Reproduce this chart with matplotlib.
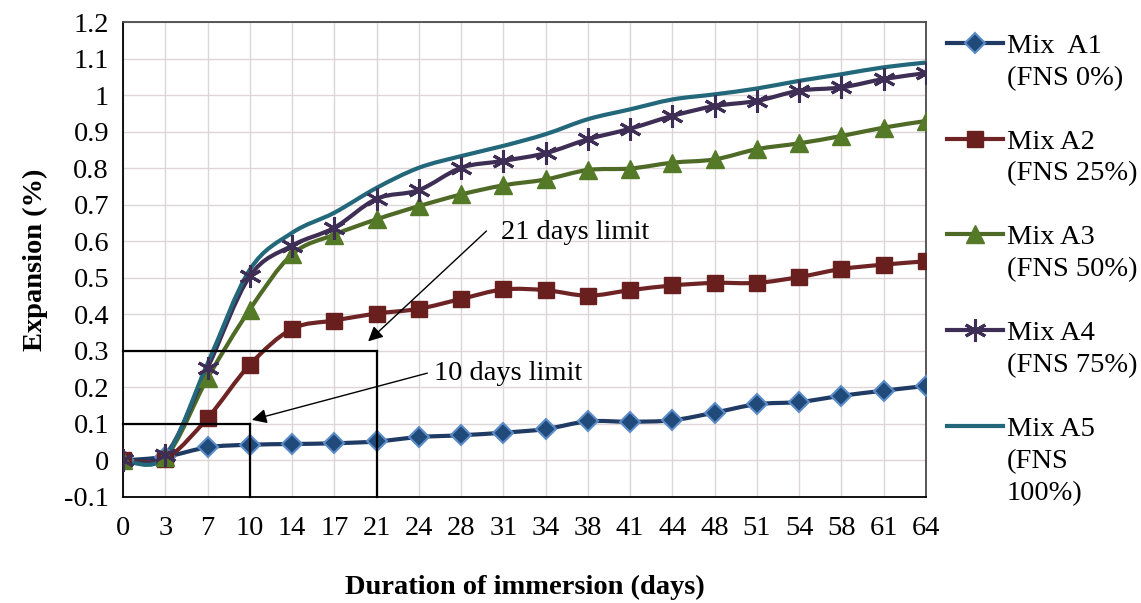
import numpy as np
import matplotlib
matplotlib.use('Agg')
import matplotlib.pyplot as plt
from matplotlib.path import Path
from matplotlib.patches import PathPatch
from matplotlib.lines import Line2D

plt.rcParams['font.family'] = ['Liberation Serif', 'DejaVu Serif']

# categories (days) and expansion values (%)
days = ['0', '3', '7', '10', '14', '17', '21', '24', '28', '31',
        '34', '38', '41', '44', '48', '51', '54', '58', '61', '64']

a1 = [0.0, 0.01, 0.036, 0.043, 0.045, 0.047, 0.052, 0.064, 0.069, 0.076,
      0.086, 0.107, 0.106, 0.110, 0.131, 0.154, 0.160, 0.177, 0.191, 0.204]
a2 = [0.0, 0.005, 0.116, 0.262, 0.360, 0.383, 0.402, 0.415, 0.442, 0.468,
      0.466, 0.451, 0.466, 0.479, 0.486, 0.486, 0.502, 0.524, 0.536, 0.545]
a3 = [0.0, 0.01, 0.225, 0.413, 0.564, 0.618, 0.660, 0.696, 0.728, 0.753,
      0.769, 0.795, 0.799, 0.815, 0.824, 0.852, 0.868, 0.888, 0.911, 0.929]
a4 = [0.0, 0.015, 0.253, 0.504, 0.588, 0.637, 0.716, 0.740, 0.801, 0.820,
      0.841, 0.879, 0.908, 0.943, 0.970, 0.984, 1.012, 1.021, 1.044, 1.060]
a5 = [0.0, 0.01, 0.265, 0.522, 0.623, 0.678, 0.746, 0.801, 0.833, 0.861,
      0.893, 0.934, 0.961, 0.988, 1.002, 1.018, 1.039, 1.057, 1.076, 1.089]

names = [['Mix  A1', '(FNS 0%)'], ['Mix A2', '(FNS 25%)'], ['Mix A3', '(FNS 50%)'],
         ['Mix A4', '(FNS 75%)'], ['Mix A5', '(FNS', '100%)']]

yticks = [-0.1, 0, 0.1, 0.2, 0.3, 0.4, 0.5, 0.6, 0.7, 0.8, 0.9, 1, 1.1, 1.2]
ytick_labels = ['-0.1', '0', '0.1', '0.2', '0.3', '0.4', '0.5', '0.6', '0.7',
                '0.8', '0.9', '1', '1.1', '1.2']

# limits drawn as boxes
limit_days = ['10', '21']
limit_vals = [0.1, 0.3]

FS = 20.5

styles = [
    dict(color='#1F3B64', marker='D', ms=10.5, mfc='#204A7A', mec='#5C8CC8', mew=1.5),
    dict(color='#6E2424', marker='s', ms=11.5, mfc='#6A1F1F', mec='#6A1F1F', mew=1),
    dict(color='#4F6A26', marker='^', ms=13.5, mfc='#557A27', mec='#557A27', mew=1),
    dict(color='#3E2E55', marker=(6, 2, 0), ms=16, mfc='#3E2E55', mec='#3E2E55', mew=2.2),
    dict(color='#23687A', marker='None', ms=0, mfc='none', mec='none', mew=0),
]


def smooth_path(x, y):
    # excel style smoothed line through the points (cubic bezier pieces)
    pts = np.column_stack([x, y]).astype(float)
    n = len(pts)
    verts = [pts[0]]
    codes = [Path.MOVETO]
    for i in range(n - 1):
        p0 = pts[i - 1] if i > 0 else pts[i]
        p1 = pts[i]
        p2 = pts[i + 1]
        p3 = pts[i + 2] if i + 2 < n else pts[i + 1]
        c1 = p1 + (p2 - p0) / 6.0
        c2 = p2 - (p3 - p1) / 6.0
        verts += [c1, c2, p2]
        codes += [Path.CURVE4] * 3
    return Path(verts, codes)


fig = plt.figure(figsize=(11.41, 6.03), dpi=100)
ax = fig.add_axes([123 / 1141, 106 / 603, 803 / 1141, 475 / 603])

x = np.arange(len(days))
handles = []
for vals, st in zip([a1, a2, a3, a4, a5], styles):
    ax.add_patch(PathPatch(smooth_path(x, vals), fill=False, edgecolor=st['color'],
                           lw=3, zorder=3, capstyle='round', joinstyle='round'))
    if st['marker'] != 'None':
        ax.plot(x, vals, linestyle='none', marker=st['marker'], ms=st['ms'],
                mfc=st['mfc'], mec=st['mec'], mew=st['mew'], zorder=4)
    handles.append(Line2D([], [], color=st['color'], lw=3, marker=st['marker'],
                          ms=st['ms'], mfc=st['mfc'], mec=st['mec'], mew=st['mew']))

# limit boxes
for d, v in zip(limit_days, limit_vals):
    xi = days.index(d)
    ax.plot([0, xi], [v, v], color='black', lw=1.6, zorder=5, clip_on=False)
    ax.plot([xi, xi], [-0.1, v], color='black', lw=1.6, zorder=5, clip_on=False)

arrow = dict(arrowstyle='-|>', color='black', lw=1, mutation_scale=22, shrinkA=0, shrinkB=0)
ax.annotate('', xy=(5.8, 0.326), xytext=(8.6, 0.628), arrowprops=arrow, zorder=6)
ax.annotate('', xy=(3.05, 0.111), xytext=(7.2, 0.239), arrowprops=arrow, zorder=6)
ax.text(8.95, 0.624, '21 days limit', fontsize=FS, va='center', ha='left', zorder=6)
ax.text(7.35, 0.238, '10 days limit', fontsize=FS, va='center', ha='left', zorder=6)

ax.set_xlim(0, len(days) - 1)
ax.set_ylim(-0.1, 1.2)
ax.set_xticks(x)
ax.set_xticklabels(days, fontsize=FS)
ax.set_yticks(yticks)
ax.set_yticklabels(ytick_labels, fontsize=FS)
ax.tick_params(length=0)
ax.tick_params(axis='x', pad=14)
ax.tick_params(axis='y', pad=10)
ax.grid(True, color='#DCD6D6', lw=1)
ax.set_axisbelow(True)
for s in ['top', 'right']:
    ax.spines[s].set_color('#4A4A4A')
for s in ['left', 'bottom']:
    ax.spines[s].set_color('black')
for s in ax.spines.values():
    s.set_linewidth(1.3)

ax.set_ylabel('Expansion (%)', fontsize=FS, fontweight='bold', labelpad=12)
ax.set_xlabel('Duration of immersion (days)', fontsize=FS, fontweight='bold', labelpad=24)

# legend: first line carries the handle, blank rows between groups
leg_handles = []
leg_labels = []
blank = Line2D([], [], linestyle='none', marker='None')
for i, (h, nm) in enumerate(zip(handles, names)):
    leg_handles.append(h)
    leg_labels.append(nm[0])
    for extra in nm[1:]:
        leg_handles.append(blank)
        leg_labels.append(extra)
    if len(nm) == 2 and i < len(names) - 1:
        leg_handles.append(blank)
        leg_labels.append(' ')

fig.legend(leg_handles, leg_labels, loc='upper left', bbox_to_anchor=(947 / 1141, 1 - 33 / 603),
           frameon=False, fontsize=FS, handlelength=1.95, handletextpad=0.15,
           labelspacing=0.21, borderpad=0, borderaxespad=0)

fig.savefig('out.png', dpi=100)
